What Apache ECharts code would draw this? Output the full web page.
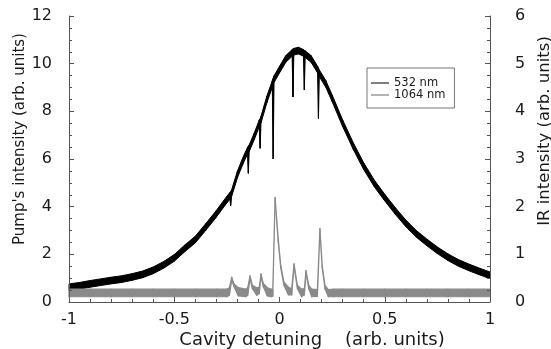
<!DOCTYPE html>
<html>
<head>
<meta charset="utf-8">
<script src="https://cdn.jsdelivr.net/npm/echarts@6/dist/echarts.min.js"></script>
<style>
  html, body { margin: 0; padding: 0; background: #fff; }
  #chart { width: 551px; height: 349px; }
</style>
</head>
<body>
<div id="chart"></div>
<script>
// Pump (532 nm) transmission: detuning positions and lower/upper edges of the noisy trace
const pumpX = [-1.00, -0.95, -0.90, -0.85, -0.80, -0.75, -0.70, -0.65, -0.60, -0.55,
  -0.50, -0.45, -0.40, -0.35, -0.30, -0.25, -0.236, -0.232, -0.228, -0.20,
  -0.175, -0.152, -0.148, -0.144, -0.12, -0.096, -0.092, -0.088, -0.06, -0.034,
  -0.030, -0.026, 0.00, 0.03, 0.060, 0.064, 0.068, 0.09, 0.114, 0.118,
  0.122, 0.15, 0.181, 0.185, 0.189, 0.22, 0.25, 0.30, 0.35, 0.40,
  0.45, 0.50, 0.55, 0.60, 0.65, 0.70, 0.75, 0.80, 0.85, 0.90,
  0.95, 1.00];
const pumpLow = [0.48, 0.54, 0.62, 0.69, 0.76, 0.82, 0.91, 1.02, 1.19, 1.42,
  1.71, 2.11, 2.48, 3.01, 3.56, 4.16, 4.31, 4.05, 4.41, 5.21,
  5.76, 6.21, 5.40, 6.31, 6.81, 7.36, 6.45, 7.51, 8.36, 9.01,
  6.00, 9.21, 9.61, 10.06, 10.31, 8.60, 10.36, 10.41, 10.31, 8.90,
  10.26, 10.06, 9.61, 7.70, 9.46, 9.01, 8.41, 7.36, 6.41, 5.56,
  4.84, 4.24, 3.68, 3.16, 2.72, 2.36, 2.03, 1.74, 1.50, 1.31,
  1.14, 0.98];
const pumpHigh = [0.76, 0.82, 0.90, 0.97, 1.04, 1.10, 1.19, 1.30, 1.47, 1.70,
  1.99, 2.39, 2.76, 3.29, 3.84, 4.44, 4.59, 4.64, 4.69, 5.49,
  6.04, 6.49, 6.54, 6.59, 7.09, 7.64, 7.69, 7.79, 8.64, 9.29,
  9.39, 9.49, 9.89, 10.34, 10.59, 10.62, 10.64, 10.69, 10.59, 10.56,
  10.54, 10.34, 9.89, 9.82, 9.74, 9.29, 8.69, 7.64, 6.69, 5.84,
  5.12, 4.52, 3.96, 3.44, 3.00, 2.64, 2.31, 2.02, 1.78, 1.59,
  1.42, 1.26];

// Infrared (1064 nm) output: detuning positions and lower/upper edges of the trace
const irX = [-1.0, -0.9, -0.8, -0.7, -0.6, -0.5, -0.4, -0.3, -0.25, -0.238,
  -0.227, -0.216, -0.196, -0.16, -0.151, -0.140, -0.129, -0.108, -0.096, -0.088,
  -0.077, -0.058, -0.040, -0.032, -0.021, -0.006, 0.006, 0.021, 0.042, 0.058,
  0.069, 0.085, 0.105, 0.118, 0.126, 0.139, 0.153, 0.180, 0.192, 0.203,
  0.216, 0.232, 0.26, 0.3, 0.4, 0.5, 0.6, 0.7, 0.8, 0.9,
  1.0];
const irLow = [0.11, 0.11, 0.11, 0.11, 0.11, 0.11, 0.11, 0.11, 0.11, 0.14,
  0.46, 0.32, 0.13, 0.11, 0.14, 0.49, 0.28, 0.14, 0.18, 0.53,
  0.32, 0.13, 0.11, 0.12, 2.13, 1.26, 0.71, 0.35, 0.15, 0.15,
  0.74, 0.28, 0.11, 0.15, 0.60, 0.28, 0.11, 0.12, 1.47, 0.71,
  0.28, 0.11, 0.11, 0.11, 0.11, 0.11, 0.11, 0.11, 0.11, 0.11,
  0.11];
const irHigh = [0.27, 0.27, 0.27, 0.27, 0.27, 0.27, 0.27, 0.27, 0.27, 0.30,
  0.52, 0.38, 0.30, 0.27, 0.30, 0.55, 0.35, 0.30, 0.31, 0.59,
  0.39, 0.30, 0.27, 0.26, 2.19, 1.33, 0.77, 0.42, 0.31, 0.28,
  0.80, 0.35, 0.27, 0.28, 0.66, 0.35, 0.27, 0.26, 1.54, 0.77,
  0.35, 0.26, 0.27, 0.27, 0.27, 0.27, 0.27, 0.27, 0.27, 0.27,
  0.27];

// Axis ranges and ticks
const xTicks = { min: -1, max: 1, interval: 0.5 };
const pumpTicks = { min: 0, max: 12, interval: 2 };
const irTicks = { min: 0, max: 6, interval: 1 };

const FONT = '"DejaVu Sans", "Liberation Sans", sans-serif';
const PUMP_COLOR = '#000000';
const IR_COLOR = '#8a8a8a';
const AXIS_COLOR = '#555555';
const TEXT_COLOR = '#1a1a1a';

// A trace is a band between its lower and upper edge, split into one
// quadrilateral per pair of neighbouring samples: [x0, lo0, hi0, x1, lo1, hi1]
function bandSegments(xs, lo, hi) {
  const out = [];
  for (let i = 0; i < xs.length - 1; i++) {
    out.push([xs[i], lo[i], hi[i], xs[i + 1], lo[i + 1], hi[i + 1]]);
  }
  return out;
}

function bandRenderer(color, strokeWidth) {
  return function (params, api) {
    const p0 = api.coord([api.value(0), api.value(1)]);
    const p1 = api.coord([api.value(3), api.value(4)]);
    const p2 = api.coord([api.value(3), api.value(5)]);
    const p3 = api.coord([api.value(0), api.value(2)]);
    return {
      type: 'polygon',
      shape: { points: [p0, p1, p2, p3] },
      style: { fill: color, stroke: color, lineWidth: strokeWidth, lineJoin: 'round' }
    };
  };
}

const chart = echarts.init(document.getElementById('chart'), null, { renderer: 'canvas' });

const axisCommon = {
  z: 10,
  axisLine: { show: true, onZero: false, lineStyle: { color: AXIS_COLOR, width: 1 } },
  axisTick: { show: true, inside: true, length: 5, lineStyle: { color: AXIS_COLOR, width: 1 } },
  minorTick: { show: true, length: 3, lineStyle: { color: AXIS_COLOR, width: 1 } },
  splitLine: { show: false },
  axisLabel: { color: TEXT_COLOR, fontSize: 16, fontFamily: FONT }
};

chart.setOption({
  animation: false,
  backgroundColor: '#ffffff',
  grid: { left: 69, right: 61, top: 16, bottom: 47, containLabel: false },
  xAxis: Object.assign({}, axisCommon, {
    type: 'value',
    min: xTicks.min, max: xTicks.max, interval: xTicks.interval,
    minorTick: Object.assign({}, axisCommon.minorTick, { splitNumber: 5 }),
    axisLabel: Object.assign({}, axisCommon.axisLabel, { margin: 10 })
  }),
  yAxis: [
    Object.assign({}, axisCommon, {
      type: 'value', position: 'left',
      min: pumpTicks.min, max: pumpTicks.max, interval: pumpTicks.interval,
      minorTick: Object.assign({}, axisCommon.minorTick, { splitNumber: 4 }),
      axisLabel: Object.assign({}, axisCommon.axisLabel, { margin: 17 })
    }),
    Object.assign({}, axisCommon, {
      type: 'value', position: 'right',
      min: irTicks.min, max: irTicks.max, interval: irTicks.interval,
      minorTick: Object.assign({}, axisCommon.minorTick, { splitNumber: 4 }),
      axisLabel: Object.assign({}, axisCommon.axisLabel, { margin: 25 })
    })
  ],
  legend: {
    orient: 'vertical',
    left: 367, top: 68,
    padding: [9, 9, 7, 4],
    itemGap: 0,
    itemWidth: 18, itemHeight: 1.5,
    backgroundColor: '#ffffff',
    borderColor: '#777777', borderWidth: 1,
    textStyle: { fontSize: 11.5, fontFamily: FONT, color: TEXT_COLOR, lineHeight: 11 },
    data: [
      { name: '532 nm', icon: 'rect', itemStyle: { color: '#555555', borderWidth: 0 } },
      { name: '1064 nm', icon: 'rect', itemStyle: { color: '#9a9a9a', borderWidth: 0 } }
    ]
  },
  series: [
    {
      name: '532 nm', type: 'custom', xAxisIndex: 0, yAxisIndex: 0, z: 2,
      data: bandSegments(pumpX, pumpLow, pumpHigh),
      encode: { x: [0, 3], y: [1, 2, 4, 5] },
      itemStyle: { color: PUMP_COLOR },
      renderItem: bandRenderer(PUMP_COLOR, 1)
    },
    {
      name: '1064 nm', type: 'custom', xAxisIndex: 0, yAxisIndex: 1, z: 3,
      data: bandSegments(irX, irLow, irHigh),
      encode: { x: [0, 3], y: [1, 2, 4, 5] },
      itemStyle: { color: IR_COLOR },
      renderItem: bandRenderer(IR_COLOR, 1.2)
    }
  ],
  graphic: [
    {
      type: 'text', x: 20, y: 139, rotation: Math.PI / 2,
      style: { text: "Pump's intensity (arb. units)", fontSize: 15, fontFamily: FONT,
               fill: TEXT_COLOR, align: 'center', verticalAlign: 'middle' }
    },
    {
      type: 'text', x: 545, y: 131, rotation: Math.PI / 2,
      style: { text: 'IR intensity (arb. units)', fontSize: 16.5, fontFamily: FONT,
               fill: TEXT_COLOR, align: 'center', verticalAlign: 'middle' }
    },
    {
      type: 'text', x: 312, y: 340,
      style: { text: 'Cavity detuning    (arb. units)', fontSize: 18, fontFamily: FONT,
               fill: TEXT_COLOR, align: 'center', verticalAlign: 'middle' }
    }
  ]
});
</script>
</body>
</html>
